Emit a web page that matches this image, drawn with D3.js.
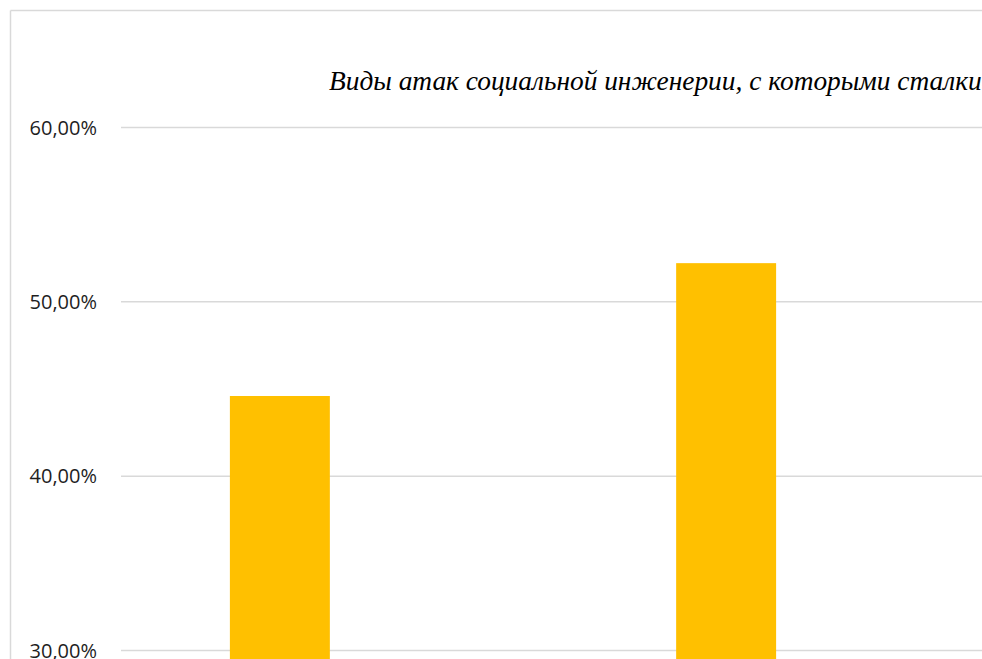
<!DOCTYPE html>
<html>
<head>
<meta charset="utf-8">
<script src="https://cdn.jsdelivr.net/npm/d3@7/dist/d3.min.js"></script>
<style>
  html, body { margin: 0; padding: 0; background: #fff; overflow: hidden; width: 982px; height: 659px; }
  svg { display: block; position: absolute; left: 0; top: 0; }
</style>
</head>
<body>
<svg id="chart" width="982" height="659" viewBox="0 0 982 659"></svg>
<script>
// Share of respondents per attack type
const categories = ["Фишинг", "Вишинг"];
const values = [0.4457, 0.5219];
const tickValues = [0.30, 0.40, 0.50, 0.60];
const title = "Виды атак социальной инженерии, с которыми сталкивались";

const W = 982, H = 659;
const svg = d3.select("#chart");

// chart frame: left edge and top edge
svg.append("line")
  .attr("x1", 10.5).attr("y1", H).attr("x2", 10.5).attr("y2", 10.5)
  .attr("stroke", "#d9d9d9").attr("stroke-width", 1.5);
svg.append("line")
  .attr("x1", 10.5).attr("y1", 10.5).attr("x2", W).attr("y2", 10.5)
  .attr("stroke", "#d9d9d9").attr("stroke-width", 1.5);

const plotLeft = 121, plotRight = 885;
const y = d3.scaleLinear().domain([0.30, 0.60]).range([650, 127]);
const x = d3.scaleBand()
  .domain(categories)
  .range([plotLeft, plotRight])
  .paddingInner(0.776)
  .paddingOuter(0.244);

const fmt = v => d3.format(".2f")(v * 100).replace(".", ",") + "%";

// gridlines + tick labels
const yAxis = d3.axisLeft(y)
  .tickValues(tickValues)
  .tickSize(-(W - plotLeft))
  .tickPadding(24)
  .tickFormat(fmt);

const gAxis = svg.append("g")
  .attr("transform", `translate(${plotLeft},0)`)
  .call(yAxis);
gAxis.select(".domain").remove();
gAxis.selectAll(".tick line").attr("stroke", "#d9d9d9").attr("stroke-width", 1.5);
gAxis.selectAll(".tick text")
  .attr("fill", "#1e1e1e")
  .attr("dy", "0.35em")
  .style("font-family", "'Open Sans', sans-serif")
  .style("font-size", "20px");

// bars
svg.append("g").selectAll("rect")
  .data(categories.map((c, i) => ({ c, v: values[i] })))
  .join("rect")
  .attr("x", d => x(d.c))
  .attr("width", x.bandwidth())
  .attr("y", d => y(d.v))
  .attr("height", d => H + 20 - y(d.v))
  .attr("fill", "#FFC000");

// title, sized so that its lead-in spans to the right edge
const titleText = svg.append("text")
  .attr("x", 329).attr("y", 90)
  .attr("fill", "#000")
  .style("font-family", "'Liberation Serif', serif")
  .style("font-style", "italic")
  .style("font-size", "24px")
  .text(title.slice(0, title.indexOf("сталки") + 6));
const lead = titleText.node().getComputedTextLength();
titleText.style("font-size", (24 * 653 / lead) + "px").text(title);
</script>
</body>
</html>
